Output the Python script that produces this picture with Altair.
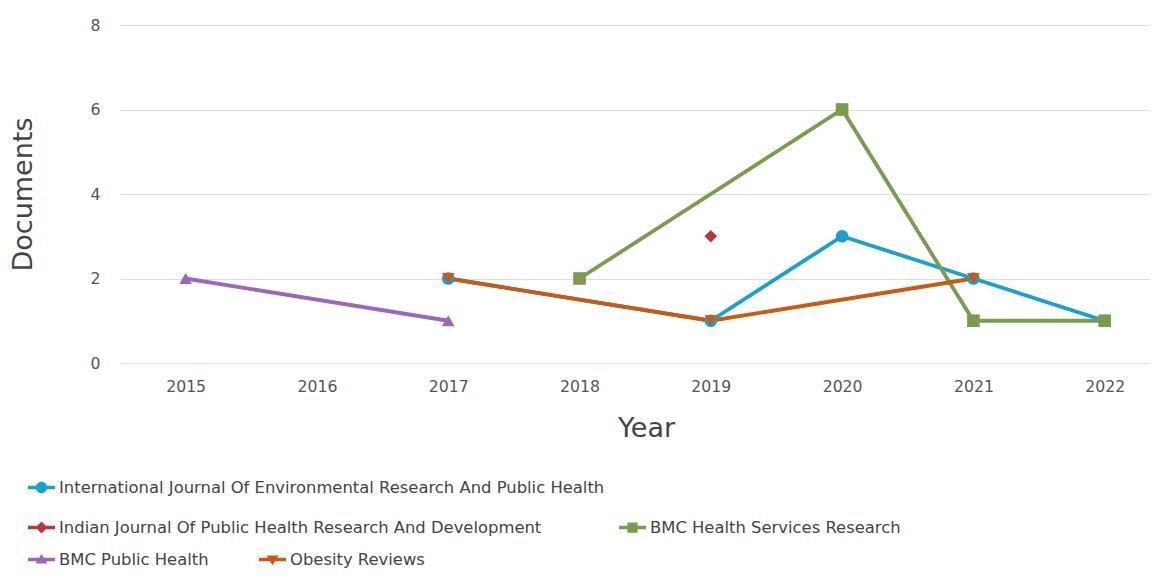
import altair as alt
import pandas as pd

years = [2015, 2016, 2017, 2018, 2019, 2020, 2021, 2022]
series_names = [
    "International Journal Of Environmental Research And Public Health",
    "Indian Journal Of Public Health Research And Development",
    "BMC Health Services Research",
    "BMC Public Health",
    "Obesity Reviews",
]
ijerph = [None, None, 2, None, 1, 3, 2, 1]
indian = [None, None, None, None, 3, None, None, None]
bmc_hsr = [None, None, None, 2, None, 6, 1, 1]
bmc_ph = [2, None, 1, None, None, None, None, None]
obesity = [None, None, 2, None, 1, None, 2, None]
series_values = [ijerph, indian, bmc_hsr, bmc_ph, obesity]
y_ticks = [0, 2, 4, 6, 8]

colors = ["#18a0cf", "#b3393d", "#7b9c4f", "#9a67bd", "#c95a12"]
shapes = ["circle", "diamond", "square", "triangle-up", "triangle-down"]

LINE = "M-1,-0.13L1,-0.13L1,0.13L-1,0.13Z"
legend_paths = [
    LINE + "M-0.42,0A0.42,0.42 0 1,1 0.42,0A0.42,0.42 0 1,1 -0.42,0Z",
    LINE + "M0,-0.45L0.45,0L0,0.45L-0.45,0Z",
    LINE + "M-0.38,-0.38L0.38,-0.38L0.38,0.38L-0.38,0.38Z",
    LINE + "M0,-0.42L0.45,0.3L-0.45,0.3Z",
    LINE + "M-0.45,-0.3L0.45,-0.3L0,0.42Z",
]

rows = []
for name, vals in zip(series_names, series_values):
    for yr, v in zip(years, vals):
        if v is not None:
            rows.append({"year": yr, "docs": v, "journal": name})
df = pd.DataFrame(rows)

FONT = "DejaVu Sans"

x_enc = alt.X(
    "year:Q",
    scale=alt.Scale(domain=[2014.5, 2022.345], nice=False, zero=False),
    axis=alt.Axis(
        values=years, format="d", title="Year", grid=False, domain=False, ticks=False,
        labelFont=FONT, labelFontSize=15.7, labelColor="#555555", labelPadding=16,
        titleFont=FONT, titleFontSize=27, titleFontWeight="normal", titleColor="#444444",
        titleX=526, titleY=65, titleBaseline="middle",
    ),
)
y_enc = alt.Y(
    "docs:Q",
    scale=alt.Scale(domain=[0, 8], nice=False),
    axis=alt.Axis(
        values=y_ticks, title="Documents", domain=False, ticks=False,
        grid=True, gridColor="#dedede", gridWidth=1,
        labelFont=FONT, labelFontSize=15.7, labelColor="#555555", labelPadding=20,
        titleFont=FONT, titleFontSize=27, titleFontWeight="normal", titleColor="#444444",
        titleX=-97, titleY=169, titleAngle=-90, titleBaseline="middle", titleAlign="center",
    ),
)

color_main = alt.Color("journal:N", scale=alt.Scale(domain=series_names, range=colors), legend=None)

lines = alt.Chart(df).mark_line(strokeWidth=3.8).encode(
    x=x_enc, y=y_enc, color=color_main, detail="journal:N",
    order=alt.Order("year:Q"),
)

points = alt.Chart(df).mark_point(filled=True, opacity=1, size=160).encode(
    x=x_enc, y=y_enc, color=color_main,
    shape=alt.Shape("journal:N", scale=alt.Scale(domain=series_names, range=shapes), legend=None),
)


def legend_layer(idx, lx, ly, gap):
    dom = [series_names[i] for i in idx]
    leg = alt.Legend(
        title=None, orient="none", legendX=lx, legendY=ly, direction="horizontal",
        labelFont=FONT, labelFontSize=16.4, labelColor="#444444", labelLimit=800,
        labelOffset=4, symbolSize=729, columnPadding=gap, padding=0,
        symbolStrokeWidth=0, symbolOpacity=1,
    )
    return alt.Chart(df).transform_filter("false").mark_point(filled=True, opacity=1).encode(
        color=alt.Color("journal:N", scale=alt.Scale(domain=dom, range=[colors[i] for i in idx]), legend=leg),
        shape=alt.Shape("journal:N", scale=alt.Scale(domain=dom, range=[legend_paths[i] for i in idx]), legend=leg),
    )


leg1 = legend_layer([0], -92, 449, 10)
leg2 = legend_layer([1, 2], -92, 489, 77)
leg3 = legend_layer([3, 4], -92, 521, 50)

chart = alt.layer(lines, points, leg1, leg2, leg3).resolve_scale(
    color="independent", shape="independent"
).properties(
    width=1030, height=338,
    autosize=alt.AutoSizeParams(type="none"),
    padding={"left": 112, "top": 17, "right": 0, "bottom": 207},
    background="white",
).configure_view(strokeWidth=0)

chart.save("out.html", embed_options={"renderer": "svg", "actions": False})
